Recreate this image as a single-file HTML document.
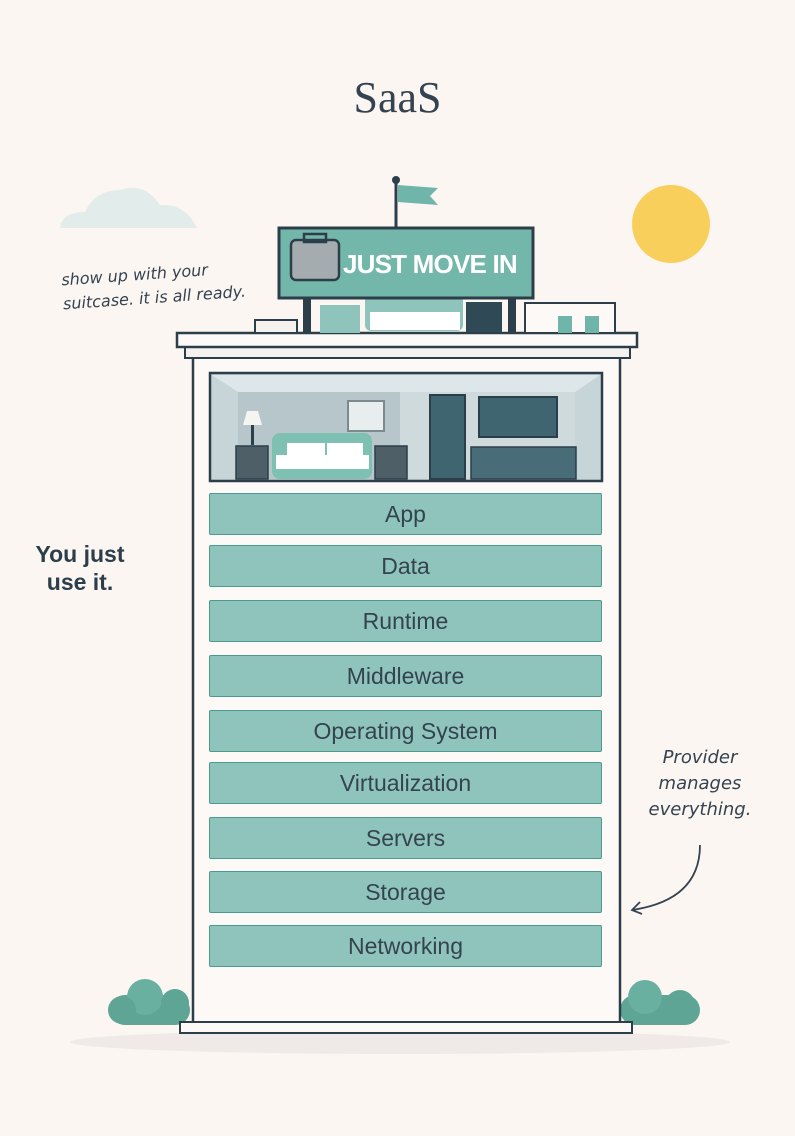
<!DOCTYPE html>
<html><head><style>
body{margin:0;width:795px;height:1136px;background:#fcf6f3;position:relative;overflow:hidden;font-family:"Liberation Sans",sans-serif}
.a{position:absolute}
.bar{position:absolute;left:209px;width:391px;height:40px;background:#8fc4bc;border:1.5px solid #4a9a8d;border-radius:2px;color:#34434f;font-size:23px;text-align:center;line-height:40px}
.hand{font-family:"DejaVu Sans",sans-serif;font-style:italic;color:#34434f}
</style></head><body>
<div class="a" style="left:0;top:72px;width:795px;text-align:center;font-family:'Liberation Serif',serif;font-size:44px;color:#34434f">SaaS</div>
<svg class="a" style="left:0;top:0" width="795" height="1136">
<ellipse cx="400" cy="1042" rx="330" ry="12" fill="#efe9e7"/>
<path d="M60 228 Q62 212 85 212 Q95 190 120 190 Q145 182 160 205 Q185 203 197 228Z" fill="#e2ecea"/>
<circle cx="671" cy="224" r="39" fill="#f7cf5a"/>
<line x1="396" y1="180" x2="396" y2="228" stroke="#2c3e4a" stroke-width="3"/>
<circle cx="396" cy="180" r="4" fill="#2c3e4a"/>
<path d="M398 185 L438 188 L430 196 L438 205 L398 202Z" fill="#6fb5a9"/>
<rect x="110" y="995" width="80" height="30" rx="15" fill="#5fa596"/>
<circle cx="145" cy="997" r="18" fill="#6ab0a1"/><circle cx="175" cy="1003" r="14" fill="#5fa596"/><circle cx="122" cy="1010" r="14" fill="#5fa596"/>
<rect x="620" y="995" width="80" height="30" rx="15" fill="#5fa596"/>
<circle cx="645" cy="997" r="17" fill="#6ab0a1"/><circle cx="680" cy="1005" r="15" fill="#5fa596"/>
<rect x="193" y="356" width="427" height="668" fill="#fcf9f7" stroke="#2c3e4a" stroke-width="2.5"/>
<rect x="185" y="346" width="445" height="12" fill="#f5f1ee" stroke="#2c3e4a" stroke-width="2"/>
<rect x="177" y="333" width="460" height="14" fill="#fcf9f7" stroke="#2c3e4a" stroke-width="2.5"/>
<rect x="180" y="1022" width="452" height="11" fill="#fcf9f7" stroke="#2c3e4a" stroke-width="2"/>
<rect x="303" y="296" width="8" height="38" fill="#2c3e4a"/><rect x="508" y="296" width="8" height="38" fill="#2c3e4a"/>
<rect x="255" y="320" width="42" height="13" fill="#f5f1ee" stroke="#2c3e4a" stroke-width="2"/>
<rect x="525" y="303" width="90" height="30" fill="#fcf9f7" stroke="#2c3e4a" stroke-width="2"/>
<rect x="558" y="316" width="14" height="17" fill="#6fb5a9"/><rect x="585" y="316" width="14" height="17" fill="#6fb5a9"/>
<rect x="320" y="305" width="40" height="28" fill="#8fc4bc"/>
<rect x="365" y="293" width="98" height="38" rx="6" fill="#8fc4bc"/><rect x="370" y="312" width="90" height="18" fill="#fff"/>
<rect x="466" y="302" width="36" height="30" fill="#2f4a55"/>
<rect x="279" y="228" width="254" height="70" fill="#73b7aa" stroke="#2c3e4a" stroke-width="3"/>
<rect x="291" y="240" width="48" height="40" rx="5" fill="#a5acb0" stroke="#2c3e4a" stroke-width="2.5"/>
<rect x="304" y="234" width="22" height="8" fill="none" stroke="#2c3e4a" stroke-width="2.5"/>
<rect x="210" y="373" width="392" height="108" fill="#c7d4d8" stroke="#2c3e4a" stroke-width="2.5"/>
<path d="M212 375 L238 392 L575 392 L600 375Z" fill="#dde6e8"/>
<rect x="238" y="392" width="337" height="87" fill="#b7c6cb"/>
<rect x="400" y="392" width="175" height="87" fill="#cfdadc"/>
<rect x="348" y="401" width="36" height="30" fill="#e8eeee" stroke="#7c8a90" stroke-width="2"/>
<rect x="430" y="395" width="35" height="84" fill="#3f6571" stroke="#2c3e4a" stroke-width="2"/>
<rect x="479" y="397" width="78" height="40" fill="#3f6571" stroke="#2c3e4a" stroke-width="2"/>
<rect x="471" y="447" width="105" height="32" fill="#486c78" stroke="#2c3e4a" stroke-width="1.5"/>
<rect x="236" y="446" width="32" height="33" fill="#4e5f68" stroke="#2c3e4a" stroke-width="1.5"/>
<rect x="375" y="446" width="32" height="33" fill="#4e5f68" stroke="#2c3e4a" stroke-width="1.5"/>
<path d="M243 425 L262 425 L258 411 L247 411Z" fill="#f4f4f0"/><rect x="251" y="425" width="3" height="20" fill="#2c3e4a"/>
<rect x="272" y="433" width="100" height="46" rx="8" fill="#7ec0b2"/><rect x="276" y="455" width="93" height="14" fill="#fff"/>
<rect x="287" y="443" width="38" height="13" fill="#fff"/><rect x="327" y="443" width="36" height="13" fill="#fff"/>
<path d="M700 845 Q700 900 632 910" fill="none" stroke="#34434f" stroke-width="1.8"/>
<path d="M640 902 L632 910 L642 914" fill="none" stroke="#34434f" stroke-width="1.8"/>
</svg>
<div class="a" style="left:343px;top:249px;font-size:26px;font-weight:bold;color:#fff;letter-spacing:-0.8px">JUST MOVE IN</div>
<div class="a hand" style="left:62px;top:262px;font-size:16px;line-height:24px;transform:rotate(-4deg)">show up with your<br>suitcase. it is all ready.</div>
<div class="a" style="left:20px;top:540px;width:120px;text-align:center;font-size:23px;font-weight:bold;color:#2c3e4a;line-height:28px">You just<br>use it.</div>
<div class="a hand" style="left:640px;top:745px;width:120px;text-align:center;font-size:18px;line-height:26px">Provider<br>manages<br>everything.</div>
<div class="bar" style="top:493px">App</div>
<div class="bar" style="top:545px">Data</div>
<div class="bar" style="top:600px">Runtime</div>
<div class="bar" style="top:655px">Middleware</div>
<div class="bar" style="top:710px">Operating System</div>
<div class="bar" style="top:762px">Virtualization</div>
<div class="bar" style="top:817px">Servers</div>
<div class="bar" style="top:871px">Storage</div>
<div class="bar" style="top:925px">Networking</div>
</body></html>
